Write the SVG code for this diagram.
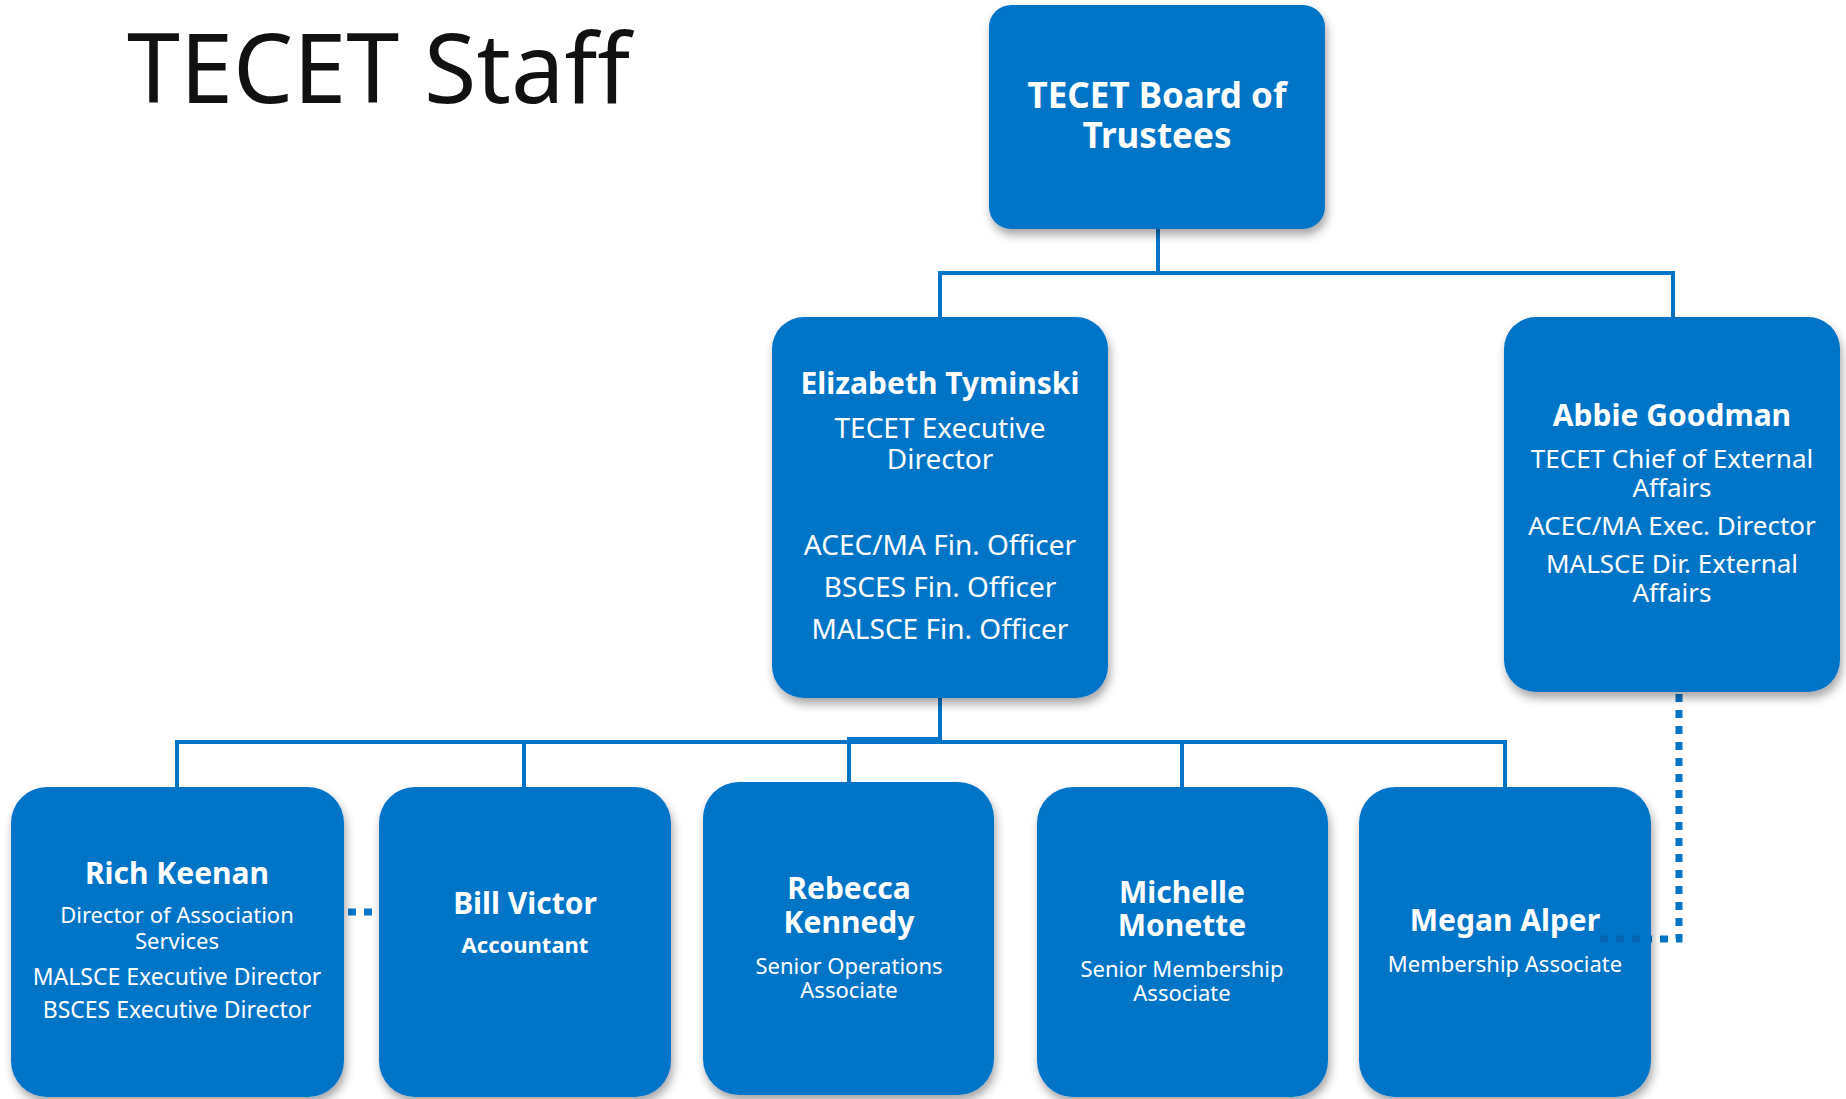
<svg xmlns="http://www.w3.org/2000/svg" width="1846" height="1099" viewBox="0 0 1846 1099">
<defs>
<filter id="sh" x="-10%" y="-10%" width="125%" height="130%">
<feDropShadow dx="2" dy="6" stdDeviation="5" flood-color="#000" flood-opacity="0.35"/>
</filter>
<style>
.box{fill:#0474C8;filter:url(#sh)}
.ln{fill:none;stroke:#0474C8;stroke-width:4}
.dot{fill:none;stroke:#0474C8;stroke-width:7;stroke-dasharray:8 8}
text{font-family:"Noto Sans","DejaVu Sans",sans-serif;fill:#fff;text-anchor:middle}
.nm{font-weight:bold;font-size:30px}
.rl{font-size:26px}
.sm{font-size:22px}
.ttl{fill:#111;text-anchor:start;font-size:96px}
</style>
</defs>
<rect width="1846" height="1099" fill="#fff"/>
<text class="ttl" x="127" y="103" textLength="503" lengthAdjust="spacingAndGlyphs">TECET Staff</text>
<g id="connectors">
<path class="ln" d="M1158,229 V273 H940 V317"/>
<path class="ln" d="M1158,273 H1673 V317"/>
<path class="ln" d="M940,698 V742"/>
<path class="ln" d="M177,787 V742 H1505 V787"/>
<path class="ln" d="M524,742 V787"/>
<path class="ln" d="M940,739 H849 V782"/>
<path class="ln" d="M1182,742 V787"/>
<path class="dot" d="M1679,694 V939 H1597"/>
<path class="dot" d="M348,912 H376"/>
</g>
<g id="board">
<rect class="box" x="989" y="5" width="336" height="224" rx="22"/>
<text class="nm" x="1157" y="108" style="font-size:35px">TECET Board of</text>
<text class="nm" x="1157" y="148" style="font-size:35px">Trustees</text>
</g>
<g id="elizabeth">
<rect class="box" x="772" y="317" width="336" height="381" rx="32"/>
<text class="nm" x="940" y="394">Elizabeth Tyminski</text>
<text class="rl" x="940" y="438" style="font-size:28px">TECET Executive</text>
<text class="rl" x="940" y="469" style="font-size:28px">Director</text>
<text class="rl" x="940" y="555" style="font-size:28px">ACEC/MA Fin. Officer</text>
<text class="rl" x="940" y="597" style="font-size:28px">BSCES Fin. Officer</text>
<text class="rl" x="940" y="639" style="font-size:28px">MALSCE Fin. Officer</text>
</g>
<g id="abbie">
<rect class="box" x="1504" y="317" width="336" height="375" rx="32"/>
<text class="nm" x="1672" y="426">Abbie Goodman</text>
<text class="rl" x="1672" y="468">TECET Chief of External</text>
<text class="rl" x="1672" y="497">Affairs</text>
<text class="rl" x="1672" y="535">ACEC/MA Exec. Director</text>
<text class="rl" x="1672" y="573">MALSCE Dir. External</text>
<text class="rl" x="1672" y="602">Affairs</text>
</g>
<g id="rich">
<rect class="box" x="11" y="787" width="333" height="310" rx="36"/>
<text class="nm" x="177" y="884">Rich Keenan</text>
<text class="sm" x="177" y="923">Director of Association</text>
<text class="sm" x="177" y="949">Services</text>
<text class="sm" x="177" y="985" style="font-size:23px">MALSCE Executive Director</text>
<text class="sm" x="177" y="1018" style="font-size:23px">BSCES Executive Director</text>
</g>
<g id="bill">
<rect class="box" x="379" y="787" width="292" height="310" rx="36"/>
<text class="nm" x="525" y="914">Bill Victor</text>
<text class="sm" x="525" y="953" style="font-weight:bold">Accountant</text>
</g>
<g id="rebecca">
<rect class="box" x="703" y="782" width="291" height="313" rx="36"/>
<text class="nm" x="849" y="899">Rebecca</text>
<text class="nm" x="849" y="933">Kennedy</text>
<text class="sm" x="849" y="974">Senior Operations</text>
<text class="sm" x="849" y="998">Associate</text>
</g>
<g id="michelle">
<rect class="box" x="1037" y="787" width="291" height="310" rx="36"/>
<text class="nm" x="1182" y="903">Michelle</text>
<text class="nm" x="1182" y="936">Monette</text>
<text class="sm" x="1182" y="977">Senior Membership</text>
<text class="sm" x="1182" y="1001">Associate</text>
</g>
<g id="megan">
<rect class="box" x="1359" y="787" width="292" height="310" rx="36"/>
<text class="nm" x="1505" y="931">Megan Alper</text>
<text class="sm" x="1505" y="972">Membership Associate</text>
</g>
<path class="dot" d="M1640,939 H1597" style="stroke:#0566b3"/>
</svg>
